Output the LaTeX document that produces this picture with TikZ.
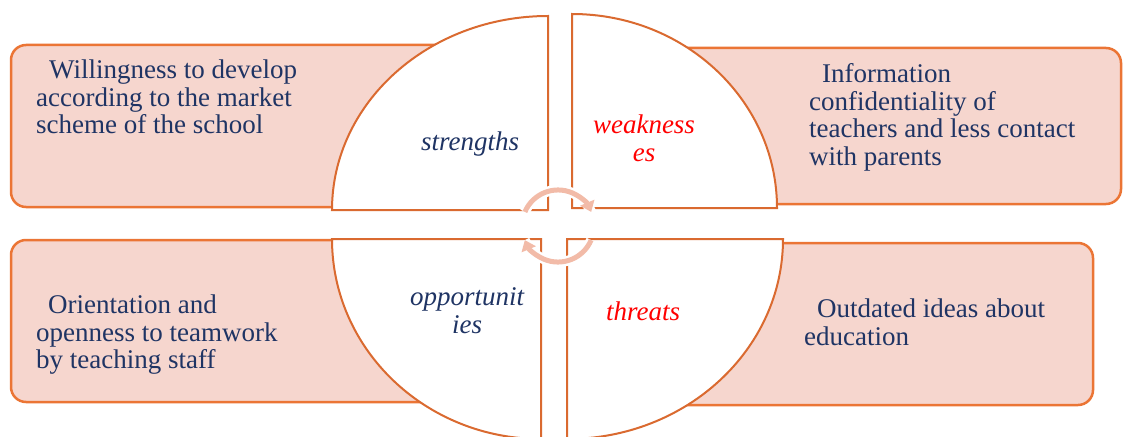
\documentclass[tikz,border=0pt]{standalone}
\usepackage{fontspec}
\setmainfont{Liberation Serif}
\newfontfamily\tnrfont{Liberation Serif}
\usetikzlibrary{arrows.meta}
\definecolor{boxfill}{HTML}{F6D6CE}
\definecolor{boxline}{HTML}{EB7535}
\definecolor{quadline}{HTML}{DA6A30}
\definecolor{navy}{HTML}{1F3464}
\definecolor{arrowcol}{HTML}{F2BBA8}
\begin{document}
\begin{tikzpicture}[x=1pt,y=-1pt,
  box/.style={fill=boxfill,draw=boxline,line width=2.5pt,rounded corners=15pt},
  quad/.style={fill=white,draw=quadline,line width=2pt,line join=miter},
  boxtext/.style={anchor=north west,inner sep=0pt,align=left,text=navy,font=\tnrfont\fontsize{27}{27.5}\selectfont},
  qtext/.style={inner sep=0pt,align=center,font=\tnrfont\fontsize{27}{28}\selectfont\itshape},
  gap/.style={draw=white,line width=10pt},
  cyc/.style={draw=arrowcol,line width=5pt,-{Triangle[length=10pt,width=15pt]}}]
\useasboundingbox (0,0) rectangle (1123,436);
% text boxes
\draw[box] (11,45) rectangle (500,207);
\draw[box] (650,48) rectangle (1121,204);
\draw[box] (11,240) rectangle (500,402);
\draw[box] (650,243) rectangle (1093,405);
% quadrants
\draw[quad] (548,210) -- (332,210) arc[start angle=180,end angle=90,x radius=216pt,y radius=194pt] -- cycle;
\draw[quad] (572,208) -- (572,14) arc[start angle=90,end angle=0,x radius=205pt,y radius=194pt] -- cycle;
\draw[quad] (541,239) -- (332,239) arc[start angle=180,end angle=270,x radius=209pt,y radius=200pt] -- cycle;
\draw[quad] (567,239) -- (783,239) arc[start angle=0,end angle=-90,x radius=216pt,y radius=200pt] -- cycle;
% circular arrows
\coordinate (c1) at (524.9,211.9);
\coordinate (c2) at (591.1,240.1);
\draw[gap] (c1) arc[start angle=157,end angle=23,radius=36pt];
\draw[gap] (c2) arc[start angle=-23,end angle=-157,radius=36pt];
\draw[cyc] (c1) arc[start angle=157,end angle=23,radius=36pt];
\draw[cyc] (c2) arc[start angle=-23,end angle=-157,radius=36pt];
% quadrant labels
\node[qtext,anchor=base,text=navy] (str) at (470,150) {strengths};
\node[qtext,anchor=north,text=red] (weak) at (644,114.6) {weakness\\es};
\node[qtext,anchor=north,text=navy] (opp) at (467,287) {opportunit\\ies};
\node[qtext,anchor=base,text=red] (thr) at (643,320) {threats};
% box texts
\node[boxtext] (t1) at (36,59.6) {\hspace*{13pt}Willingness to develop\\according to the market\\scheme of the school};
\node[boxtext] (t2) at (809,63.6) {\hspace*{13pt}Information\\confidentiality of\\teachers and less contact\\with parents};
\node[boxtext] (t3) at (36,294.6) {\hspace*{12pt}Orientation and\\openness to teamwork\\by teaching staff};
\node[boxtext] (t4) at (804,298.6) {\hspace*{13pt}Outdated ideas about\\education};
\end{tikzpicture}
\end{document}
